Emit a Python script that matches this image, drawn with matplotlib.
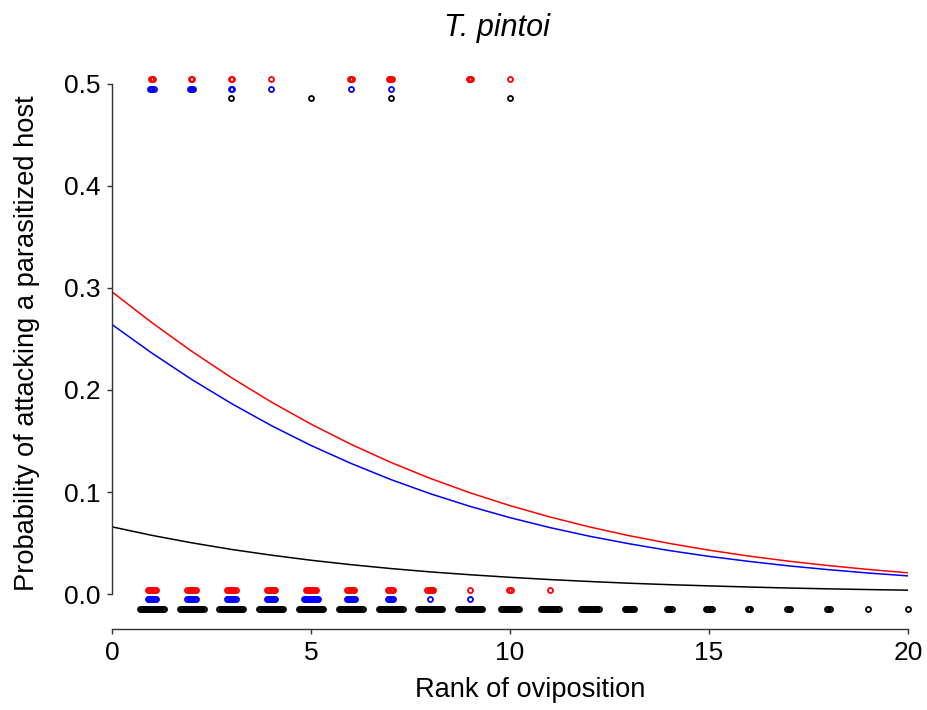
import numpy as np
import matplotlib
matplotlib.use("Agg")
from matplotlib import pyplot as plt

plt.rcParams['font.family'] = ['Liberation Sans', 'DejaVu Sans']

# fitted curves, read at each rank 0..20
rank_grid = list(range(21))
fit_red = [0.2961, 0.2660, 0.2380, 0.2121, 0.1883, 0.1666, 0.1469, 0.1292, 0.1134, 0.0993, 0.0868,
           0.0757, 0.0659, 0.0573, 0.0498, 0.0432, 0.0374, 0.0324, 0.0281, 0.0243, 0.0210]
fit_blue = [0.2641, 0.2362, 0.2104, 0.1868, 0.1652, 0.1457, 0.1282, 0.1124, 0.0984, 0.0860, 0.0750,
            0.0653, 0.0568, 0.0494, 0.0428, 0.0371, 0.0322, 0.0278, 0.0241, 0.0208, 0.0180]
fit_black = [0.0660, 0.0577, 0.0504, 0.0439, 0.0383, 0.0333, 0.0290, 0.0252, 0.0219, 0.0191, 0.0166,
             0.0144, 0.0125, 0.0108, 0.0094, 0.0082, 0.0071, 0.0061, 0.0053, 0.0046, 0.0040]

# observations: ranks and number of cases, outcome 0 (not parasitized) and 1 (parasitized)
red_r0 = [1, 2, 3, 4, 5, 6, 7, 8, 9, 10, 11]
red_n0 = [8, 8, 8, 8, 10, 7, 5, 6, 1, 2, 1]
blue_r0 = [1, 2, 3, 4, 5, 6, 7, 8, 9]
blue_n0 = [8, 8, 8, 8, 13, 8, 5, 1, 1]
black_r0 = list(range(1, 21))
black_n0 = [22, 22, 22, 22, 22, 22, 22, 22, 22, 16, 16, 16, 9, 5, 6, 3, 3, 3, 1, 1]

red_r1 = [1, 2, 3, 4, 6, 7, 9, 10]
red_n1 = [3, 2, 2, 1, 3, 4, 3, 1]
blue_r1 = [1, 2, 3, 4, 6, 7]
blue_n1 = [4, 4, 2, 1, 1, 1]
black_r1 = [3, 5, 7, 10]
black_n1 = [1, 1, 1, 1]


def spread(ranks, counts, cap):
    xs = []
    for r, n in zip(ranks, counts):
        hw = min(cap, 0.03 * (n - 1) / 2)
        xs.extend(np.linspace(r - hw, r + hw, n))
    return np.array(xs)


fig = plt.figure(figsize=(9.27, 7.10), dpi=100)
ax = fig.add_axes([0.1208, 0.1141, 0.8587, 0.8056])

groups = [
    ('red', red_r0, red_n0, red_r1, red_n1, 0.004),
    ('blue', blue_r0, blue_n0, blue_r1, blue_n1, -0.005),
    ('black', black_r0, black_n0, black_r1, black_n1, -0.0145),
]
for col, r0, n0, r1, n1, off in groups:
    x0 = spread(r0, n0, 0.3)
    x1 = spread(r1, n1, 0.3)
    ax.plot(x0, np.zeros(len(x0)) + off, 'o', mfc='none', mec=col, ms=3.6, mew=1.3, clip_on=False)
    ax.plot(x1, np.full(len(x1), 0.5) + off, 'o', mfc='none', mec=col, ms=3.6, mew=1.3, clip_on=False)

ax.plot(rank_grid, fit_red, color='red', lw=1.1)
ax.plot(rank_grid, fit_blue, color='blue', lw=1.1)
ax.plot(rank_grid, fit_black, color='black', lw=1.1)

ax.set_xlim(0, 20)
ax.set_ylim(-0.034, 0.526)
ax.spines['top'].set_visible(False)
ax.spines['right'].set_visible(False)
ax.spines['left'].set_bounds(0, 0.5)
ax.spines['bottom'].set_bounds(0, 20)
for s in ['left', 'bottom']:
    ax.spines[s].set_linewidth(1.0)
    ax.spines[s].set_color('#333333')
ax.set_xticks([0, 5, 10, 15, 20])
ax.set_yticks([0.0, 0.1, 0.2, 0.3, 0.4, 0.5])
ax.set_yticklabels(['0.0', '0.1', '0.2', '0.3', '0.4', '0.5'])
ax.tick_params(direction='out', length=3.5, width=1.0, color='#333333', labelsize=19, pad=5)

ax.set_xlabel('Rank of oviposition', fontsize=19.6, labelpad=9)
ax.xaxis.label.set_x(0.525)
ax.set_ylabel('Probability of attacking a parasitized host', fontsize=19.6, labelpad=17)
ax.set_title('T. pintoi', fontsize=22, style='italic', pad=15, x=0.484)

fig.savefig('out.png', dpi=100)
